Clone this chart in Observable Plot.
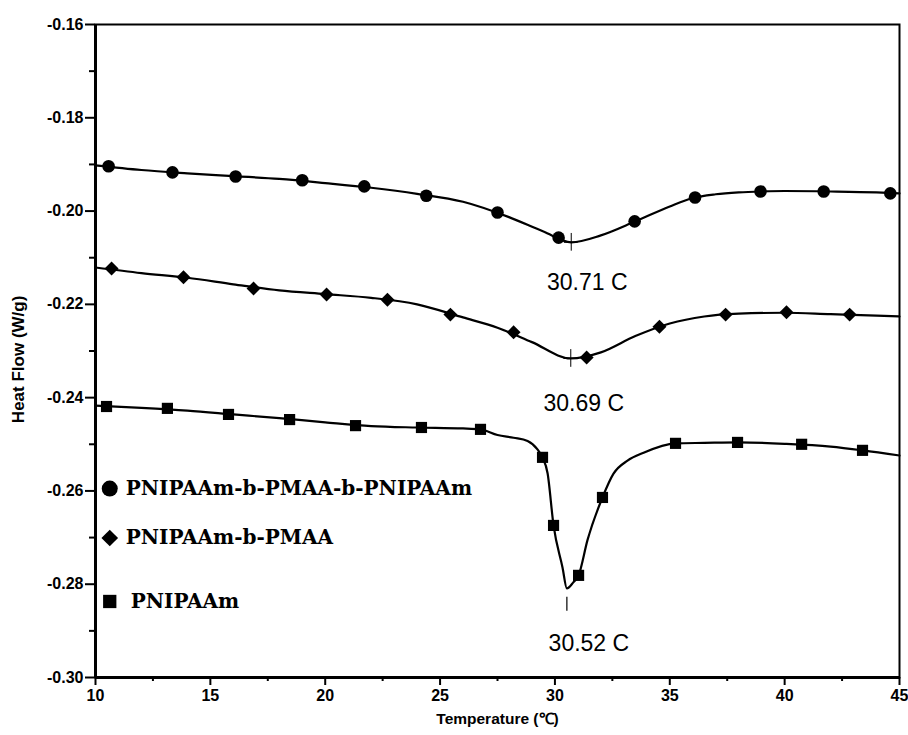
<!DOCTYPE html>
<html>
<head>
<meta charset="utf-8">
<script src="https://cdn.jsdelivr.net/npm/d3@7"></script>
<script src="https://cdn.jsdelivr.net/npm/@observablehq/plot@0.6"></script>
<style>
  html, body { margin: 0; padding: 0; background: #fff; }
  svg { display: block; }
</style>
</head>
<body>
<div id="chart"></div>
<script>
// ---------- data ----------
const seriesNames = ["PNIPAAm-b-PMAA-b-PNIPAAm", "PNIPAAm-b-PMAA", "PNIPAAm"];
const seriesSymbols = ["circle", "diamond2", "square"];

// continuous DSC traces (temperature °C, heat flow W/g)
const curveT1 = [10, 12, 14, 16, 18, 20, 22, 24, 26, 28, 29.5, 30.71, 32, 33.5, 35, 36, 37, 38, 39, 40, 42, 44, 45];
const curveF1 = [-0.1902, -0.1912, -0.1919, -0.1925, -0.1931, -0.1940, -0.1950, -0.1963, -0.1980, -0.2013, -0.2044, -0.2067, -0.2052, -0.2022, -0.1990, -0.1972, -0.1964, -0.1960, -0.1958, -0.1957, -0.1958, -0.1960, -0.1962];

const curveT2 = [10, 12, 14, 16, 18, 20, 22, 24, 26, 27.5, 29, 30.69, 32, 33.5, 35, 36.5, 38, 40, 42, 44, 45];
const curveF2 = [-0.2121, -0.2133, -0.2143, -0.2157, -0.2170, -0.2178, -0.2186, -0.2200, -0.2228, -0.2250, -0.2281, -0.2316, -0.2303, -0.2268, -0.2241, -0.2226, -0.2220, -0.2218, -0.2221, -0.2224, -0.2226];

const curveT3 = [10, 12, 14, 16, 18, 20, 22, 24, 26, 26.76, 27.5, 28.2, 28.81, 29.24, 29.46, 29.68, 29.94, 30.33, 30.52, 30.8, 31.03, 31.42, 32.07, 32.55, 33.16, 33.86, 35.25, 36.5, 38, 40, 42, 43.4, 45];
const curveF3 = [-0.2417, -0.2422, -0.2428, -0.2436, -0.2444, -0.2453, -0.2461, -0.2464, -0.2466, -0.2468, -0.2480, -0.2486, -0.2493, -0.2511, -0.2528, -0.2562, -0.2674, -0.2764, -0.2809, -0.2796, -0.2781, -0.2705, -0.2614, -0.2563, -0.2535, -0.2518, -0.2498, -0.2497, -0.2496, -0.2499, -0.2505, -0.2513, -0.2524];

// symbol markers along each trace
const markT1 = [10.57, 13.35, 16.1, 19.0, 21.7, 24.4, 27.5, 30.16, 33.47, 36.1, 38.95, 41.7, 44.6];
const markF1 = [-0.1904, -0.1917, -0.1926, -0.1934, -0.1947, -0.1967, -0.2003, -0.2057, -0.2022, -0.1971, -0.1958, -0.1958, -0.1962];

const markT2 = [10.70, 13.83, 16.88, 20.06, 22.71, 25.45, 28.2, 31.38, 34.55, 37.43, 40.08, 42.83];
const markF2 = [-0.2123, -0.2142, -0.2166, -0.2179, -0.2190, -0.2222, -0.2260, -0.2314, -0.2248, -0.2222, -0.2217, -0.2222];

const markT3 = [10.48, 13.13, 15.79, 18.45, 21.32, 24.19, 26.76, 29.46, 29.94, 31.03, 32.07, 35.25, 37.95, 40.74, 43.39];
const markF3 = [-0.2419, -0.2423, -0.2436, -0.2447, -0.2460, -0.2464, -0.2468, -0.2528, -0.2674, -0.2781, -0.2614, -0.2498, -0.2496, -0.2500, -0.2513];

// peak annotations
const peakT = [30.71, 30.69, 30.52];
const peakF = [-0.2067, -0.2316, -0.2809];
const peakLabels = ["30.71 C", "30.69 C", "30.52 C"];

// ticks
const xMajor = [10, 15, 20, 25, 30, 35, 40, 45];
const xMinor = [12.5, 17.5, 22.5, 27.5, 32.5, 37.5, 42.5];
const yMajor = [-0.30, -0.28, -0.26, -0.24, -0.22, -0.20, -0.18, -0.16];
const yMinor = [-0.29, -0.27, -0.25, -0.23, -0.21, -0.19, -0.17];

const xTitle = "Temperature (℃)";
const yTitle = "Heat Flow (W/g)";

// ---------- build tables ----------
const curves = [[curveT1, curveF1], [curveT2, curveF2], [curveT3, curveF3]]
  .flatMap(([T, F], i) => T.map((t, j) => ({series: seriesNames[i], t, f: F[j]})));
const markers = [[markT1, markF1], [markT2, markF2], [markT3, markF3]]
  .map(([T, F], i) => T.map((t, j) => ({series: seriesNames[i], t, f: F[j]})));
const peaks = peakT.map((t, i) => ({t, f: peakF[i], label: peakLabels[i]}));

// layout config (not data)
const legendT = 10.62;
const legendRows = [-0.2595, -0.2701, -0.2837];
const labelDx = [16, 13, 22];
const labelDy = [40, 45, 55];
const yTitleAt = -0.2318;

const tickFont = "'Liberation Sans', Arial, sans-serif";
const legendFont = "'DejaVu Serif', 'Liberation Serif', serif";
const annoFont = "'Liberation Sans', Arial, sans-serif";

const marks = [
  Plot.frame({stroke: "#000", strokeWidth: 2}),
  Plot.ruleX([10], {stroke: "#000", strokeWidth: 3}),
  Plot.ruleY([-0.30], {stroke: "#000", strokeWidth: 3}),
  Plot.axisY({ticks: yMajor, tickSize: 10, tickPadding: 2, tickFormat: d => d.toFixed(2),
    fontSize: 16, fontWeight: "bold", fontFamily: tickFont, strokeWidth: 2, label: null}),
  Plot.axisY({ticks: yMinor, tickSize: 6, tickFormat: () => "", strokeWidth: 2, label: null}),
  Plot.axisX({ticks: xMajor, tickSize: 8, tickPadding: 4, tickFormat: d => String(d),
    fontSize: 16, fontWeight: "bold", fontFamily: tickFont, strokeWidth: 2, label: null}),
  Plot.axisX({ticks: xMinor, tickSize: 4, tickFormat: () => "", strokeWidth: 2, label: null}),
  Plot.text([yTitle], {text: d => d, x: () => 10, y: () => yTitleAt, rotate: -90, dx: -77,
    textAnchor: "middle", lineAnchor: "middle",
    fontSize: 17, fontWeight: "bold", fontFamily: tickFont, fill: "#000"}),
  Plot.text([xTitle], {text: d => d, frameAnchor: "bottom", dy: 46,
    fontSize: 15.5, fontWeight: "bold", fontFamily: tickFont, fill: "#000"}),

  Plot.line(curves, {x: "t", y: "f", z: "series", curve: "monotone-x", stroke: "#000", strokeWidth: 2.2}),
  ...markers.map((m, i) => Plot.dot(m, {x: "t", y: "f", symbol: () => seriesSymbols[i], r: 6.3, fill: "#000", stroke: "none"})),

  // peak crosshairs
  Plot.ruleX(peaks.slice(0, 2), {x: "t", y1: d => d.f + 0.0019, y2: d => d.f - 0.0019, stroke: "#000", strokeWidth: 1}),
  Plot.ruleY(peaks.slice(0, 2), {y: "f", x1: d => d.t - 0.3, x2: d => d.t + 0.3, stroke: "#000", strokeWidth: 1}),
  Plot.ruleX(peaks.slice(2), {x: "t", y1: d => d.f - 0.0019, y2: d => d.f - 0.0049, stroke: "#000", strokeWidth: 1.2}),
  ...peaks.map((p, i) => Plot.text([p], {x: "t", y: "f", text: "label", dx: labelDx[i], dy: labelDy[i],
    fontSize: 23, fontFamily: annoFont, fill: "#000", lineAnchor: "middle"})),

  // legend
  ...seriesNames.map((name, i) => Plot.dot([name], {x: () => legendT, y: () => legendRows[i],
    symbol: () => seriesSymbols[i], r: i === 0 ? 8 : 7.5, fill: "#000", stroke: "none"})),
  ...seriesNames.map((name, i) => Plot.text([name], {x: () => legendT, y: () => legendRows[i], text: d => d,
    dx: i === 2 ? 21 : 16, textAnchor: "start", lineAnchor: "middle",
    fontSize: 20, fontWeight: "bold", fontFamily: legendFont, fill: "#000"}))
];

const chart = Plot.plot({
  width: 908,
  height: 735,
  marginLeft: 95,
  marginRight: 9,
  marginTop: 24,
  marginBottom: 58,
  x: {domain: [10, 45], axis: null},
  y: {domain: [-0.30, -0.16], axis: null},
  symbol: {type: "identity"},
  style: {background: "#fff", color: "#000"},
  marks
});
document.getElementById("chart").appendChild(chart);
</script>
</body>
</html>
